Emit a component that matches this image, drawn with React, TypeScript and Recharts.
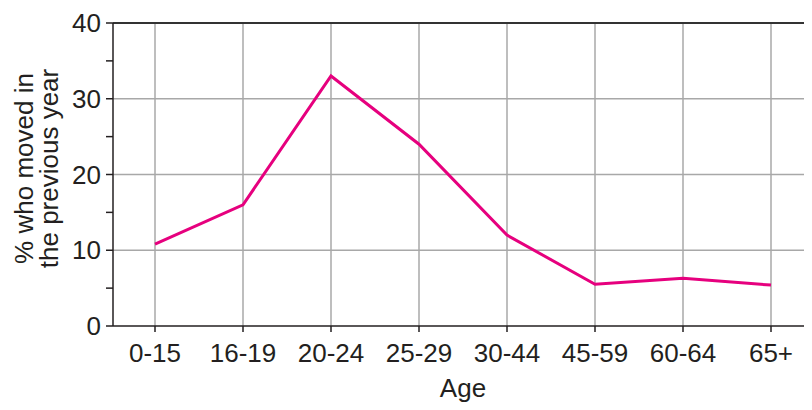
import { Line, LineChart, ReferenceLine, XAxis, YAxis } from "recharts";

const AGE_GROUPS = ["0-15", "16-19", "20-24", "25-29", "30-44", "45-59", "60-64", "65+"];
const MOVED_PCT = [10.8, 16, 33, 24, 12, 5.5, 6.3, 5.4];
const Y_TICKS = [0, 5, 10, 15, 20, 25, 30, 35, 40];
const GRID_Y = [10, 20, 30];

const data = AGE_GROUPS.map((age, i) => ({ age, moved: MOVED_PCT[i] }));

const FONT = "'Liberation Sans', Arial, sans-serif";
const INK = "#231f20";
const GRID = "#a8a8a8";

function YLabel(props: any) {
  const vb = props.viewBox || { y: 15, height: 303 };
  const cy = vb.y + vb.height / 2 - 6;
  return (
    <g fontFamily={FONT} fontSize={26} fill={INK}>
      <text x={16} y={cy} transform={`rotate(-90, 16, ${cy})`} textAnchor="middle" dominantBaseline="central">
        % who moved in
      </text>
      <text x={41} y={cy} transform={`rotate(-90, 41, ${cy})`} textAnchor="middle" dominantBaseline="central">
        the previous year
      </text>
    </g>
  );
}

function XLabel() {
  return (
    <text x={455} y={389} textAnchor="middle" fontFamily={FONT} fontSize={26} fill={INK}>
      Age
    </text>
  );
}

export default function App() {
  return (
    <div style={{ width: 804, height: 394 }}>
      <LineChart width={804} height={394} data={data} margin={{ top: 15, right: 0, bottom: 16, left: 45 }}>
        {AGE_GROUPS.map((a) => (
          <ReferenceLine key={a} x={a} stroke={GRID} strokeWidth={1.5} />
        ))}
        {GRID_Y.map((v) => (
          <ReferenceLine key={v} y={v} stroke={GRID} strokeWidth={1.5} />
        ))}
        <ReferenceLine y={40} stroke="#333" strokeWidth={2} />
        <XAxis
          dataKey="age"
          padding={{ left: 42, right: 41 }}
          height={60}
          tickSize={6}
          tickMargin={12}
          stroke="#231f20"
          strokeWidth={1.5}
          tick={{ fontFamily: FONT, fontSize: 26, fill: INK }}
          label={<XLabel />}
        />
        <YAxis
          domain={[0, 40]}
          ticks={Y_TICKS}
          interval={0}
          width={60}
          tickSize={7}
          tickMargin={5}
          stroke="#231f20"
          strokeWidth={1.5}
          tickFormatter={(v: number) => (v % 10 === 0 ? String(v) : "")}
          tick={{ fontFamily: FONT, fontSize: 26, fill: INK }}
          label={<YLabel />}
        />
        <Line
          type="linear"
          dataKey="moved"
          stroke="#e6007e"
          strokeWidth={3}
          dot={false}
          isAnimationActive={false}
        />
      </LineChart>
    </div>
  );
}
